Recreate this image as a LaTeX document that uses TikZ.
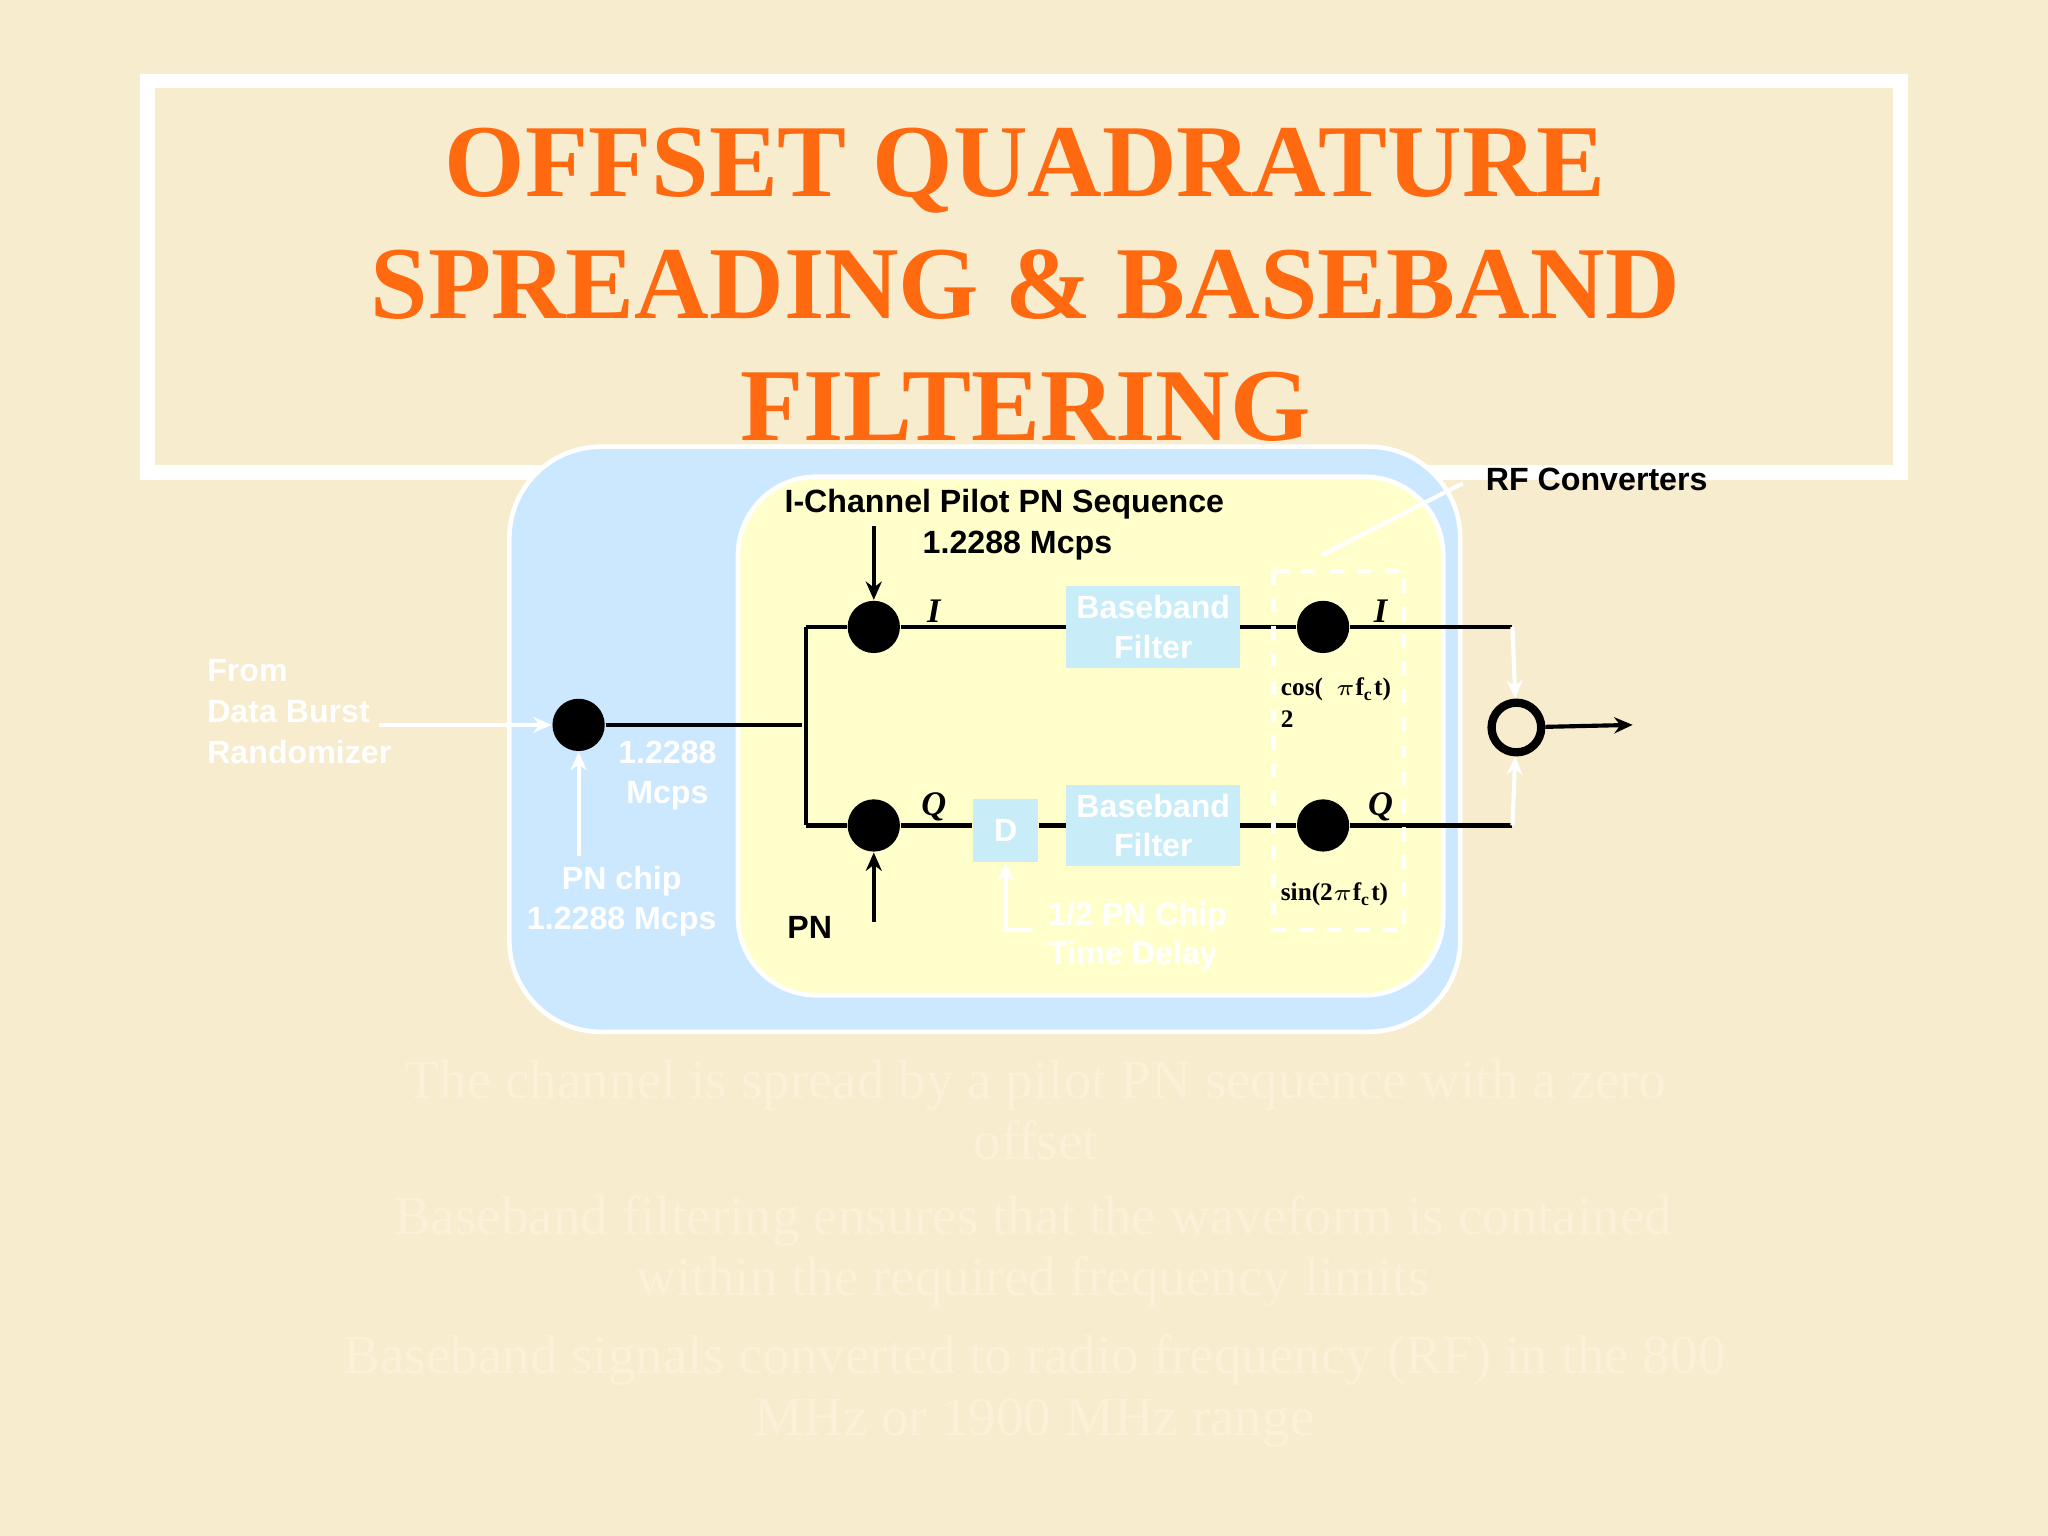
\documentclass[tikz,border=0pt]{standalone}
\usepackage{fontspec}
\setmainfont{Liberation Serif}
\setsansfont{Liberation Sans}
\usetikzlibrary{arrows.meta}
\definecolor{bg}{HTML}{F8ECCF}
\definecolor{ttl}{HTML}{FF6A10}
\definecolor{bluebox}{HTML}{CCE8FF}
\definecolor{yel}{HTML}{FFFFCC}
\definecolor{filt}{HTML}{C8ECF8}
\definecolor{faint}{HTML}{FBF1D8}
\tikzset{
  dot/.style={circle,fill=black,minimum size=0.4cm,inner sep=0},
  filtbox/.style={fill=filt,draw=filt,minimum width=1.32cm,minimum height=0.61cm,inner sep=0,text=white,font=\sffamily\bfseries\fontsize{7}{8.6}\selectfont,align=center},
  lbl/.style={font=\sffamily\bfseries\fontsize{7}{8.6}\selectfont,inner sep=0},
  wlbl/.style={lbl,text=white,align=center},
  sig/.style={font=\bfseries\itshape\fontsize{7.5}{8}\selectfont,inner sep=0},
  trig/.style={font=\bfseries\fontsize{5.5}{7}\selectfont,inner sep=0,align=left},
  wire/.style={line width=0.9pt},
  arr/.style={line width=0.9pt,-{Stealth[length=4pt,width=3.5pt]}},
  warr/.style={line width=0.9pt,white,-{Stealth[length=4pt,width=3.5pt]}},
  bul/.style={text=faint,font=\fontsize{12}{13.3}\selectfont,align=center,inner sep=0}
}
\begin{document}
\begin{tikzpicture}[x=0.01cm,y=-0.01cm]
\fill[bg] (0,0) rectangle (1568,1176);
\draw[white,line width=3.2pt] (113,62) rectangle (1455,362);
\node[text=ttl,font=\bfseries\fontsize{22.5}{26.5}\selectfont,align=center] (title) at (785,218) {OFFSET QUADRATURE\\SPREADING \& BASEBAND\\FILTERING};
\draw[white,line width=1pt,fill=bluebox,rounded corners=0.7cm] (390,342) rectangle (1118,790);
\draw[white,line width=1pt,fill=yel,rounded corners=0.6cm] (565,365) rectangle (1105,762);
\node[dot] (in) at (443,555) {};
\node[dot] (mi) at (669,480) {};
\node[dot] (mq) at (669,632) {};
\node[dot] (ri) at (1013,480) {};
\node[dot] (rq) at (1013,632) {};
\node[circle,draw=black,line width=1.8pt,minimum size=0.38cm,inner sep=0] (sum) at (1161,557) {};
\node[filtbox] (fi) at (883,480) {Baseband\\Filter};
\node[filtbox] (fq) at (883,632) {Baseband\\Filter};
\node[fill=filt,minimum width=0.5cm,minimum height=0.48cm,inner sep=0,text=white,font=\sffamily\bfseries\fontsize{7}{8}\selectfont] (d) at (770,636) {D};
\coordinate (sp) at (614,555);
\coordinate (ti) at (617,480);
\coordinate (tq) at (617,632);
\coordinate (ei) at (1158,480);
\coordinate (eq) at (1158,632);
\draw[wire] (in) -- (sp);
\draw[wire] (ti) -- (tq);
\draw[wire] (ti) -- (mi) -- (fi) -- (ri) -- (ei);
\draw[wire] (tq) -- (mq) -- (mq -| d.west);
\draw[wire] (mq -| d.east) -- (mq -| fq.west);
\draw[wire] (fq) -- (rq) -- (eq);
\coordinate (pilot) at (669,403);
\coordinate (pn) at (669,706);
\draw[arr] (pilot) -- (mi);
\draw[arr] (pn) -- (mq);
\coordinate (pnc) at (443,655);
\draw[warr] (pnc) -- (in);
\coordinate (from) at (290,555);
\draw[warr] (from) -- (in);
\coordinate (out) at (1250,555);
\draw[arr] (sum) -- (out);
\draw[warr] (ei) -- (sum);
\draw[warr] (eq) -- (sum);
\coordinate (dl) at (790,712);
\draw[warr] (dl) -| (d);
\draw[white,dashed,line width=0.9pt] (975,437) rectangle (1075,712);
\coordinate (rfp) at (1120,370);
\coordinate (rfq) at (1012,425);
\draw[white,line width=0.9pt] (rfp) -- (rfq);
\node[lbl,anchor=west] (l1) at (600,386) {I-Channel Pilot PN Sequence};
\node[lbl] (l2) at (779,418) {1.2288 Mcps};
\node[lbl,anchor=west] (rf) at (1137,367) {RF Converters};
\node[lbl] (pnl) at (620,710) {PN};
\node[sig] (si1) at (715,468) {I};
\node[sig] (si2) at (1057,468) {I};
\node[sig] (sq1) at (715,618) {Q};
\node[sig] (sq2) at (1057,618) {Q};
\node[trig,anchor=west] (cos) at (980,538) {cos(\ \ $\pi$f\textsubscript{c}t)\\2};
\node[trig,anchor=west] (sin) at (980,685) {sin(2$\pi$f\textsubscript{c}t)};
\node[wlbl,align=left,anchor=west,font=\sffamily\bfseries\fontsize{7}{8.9}\selectfont] (fr) at (158,545) {From\\Data Burst\\Randomizer};
\node[wlbl] (rate) at (511,594) {1.2288\\Mcps};
\node[wlbl] (pnchip) at (476,690) {PN chip\\1.2288 Mcps};
\node[wlbl,align=left,anchor=west] (hd) at (802,717) {1/2 PN Chip\\Time Delay};
\node[bul] (b1) at (793,850) {The channel is spread by a pilot PN sequence with a zero\\offset};
\node[bul] (b2) at (791,958) {Baseband filtering ensures that the waveform is contained\\within the required frequency limits};
\node[bul] (b3) at (792,1065) {Baseband signals converted to radio frequency (RF) in the 800\\MHz or 1900 MHz range};
\end{tikzpicture}
\end{document}
